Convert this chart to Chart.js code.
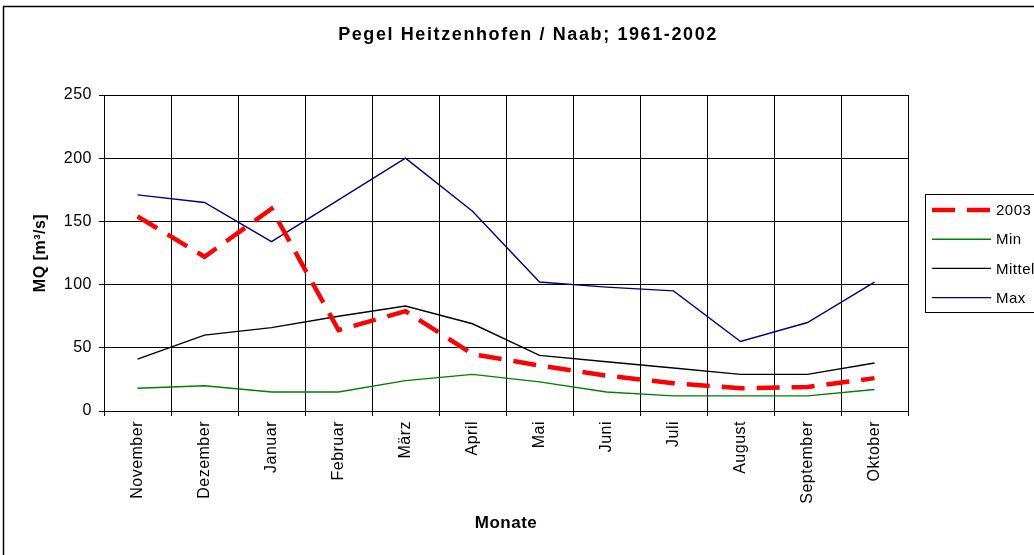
<!DOCTYPE html>
<html lang="de">
<head>
<meta charset="utf-8">
<title>Pegel Heitzenhofen / Naab</title>
<script src="https://cdn.jsdelivr.net/npm/chart.js@4.4.1/dist/chart.umd.min.js"></script>
<style>
  html, body { margin: 0; padding: 0; background: #fff; }
  canvas { display: block; }
</style>
</head>
<body>
<canvas id="pegel" width="1034" height="555"></canvas>
<script>
const FONT = '"Liberation Sans", Arial, sans-serif';

// Abflusswerte MQ [m³/s], Abflussjahr November bis Oktober
const months = ['November', 'Dezember', 'Januar', 'Februar', 'März', 'April',
                'Mai', 'Juni', 'Juli', 'August', 'September', 'Oktober'];
const q2003   = [154, 122, 160, 64, 79, 45, 36, 28, 22, 18, 19, 26];
const qMin    = [18, 20, 15, 15, 24, 29, 23, 15, 12, 12, 12, 17];
const qMittel = [41, 60, 66, 75, 83, 69, 44, 39, 34, 29, 29, 38];
const qMax    = [171, 165, 134, 167, 200, 158, 102, 98, 95, 55, 70, 102];
const yTicks  = [0, 50, 100, 150, 200, 250];

// Rahmen, Titel und Legende im Excel-Stil
const excelFrame = {
  id: 'excelFrame',
  beforeDraw(chart) {
    const ctx = chart.ctx;
    ctx.save();
    ctx.fillStyle = '#fff';
    ctx.fillRect(0, 0, chart.width, chart.height);
    ctx.restore();
    ctx.letterSpacing = '0.5px';
  },
  afterDraw(chart) {
    const ctx = chart.ctx;
    ctx.save();

    // äußerer Rahmen
    ctx.strokeStyle = '#000';
    ctx.lineWidth = 1.5;
    ctx.beginPath();
    ctx.moveTo(3.5, chart.height);
    ctx.lineTo(3.5, 6.5);
    ctx.lineTo(chart.width, 6.5);
    ctx.stroke();

    // Titel
    ctx.letterSpacing = '1.6px';
    ctx.fillStyle = '#000';
    ctx.font = 'bold 18px ' + FONT;
    ctx.textAlign = 'center';
    ctx.textBaseline = 'middle';
    ctx.fillText('Pegel Heitzenhofen / Naab; 1961-2002', 528, 35);

    // Legende
    ctx.letterSpacing = '0.5px';
    ctx.lineWidth = 1;
    ctx.strokeStyle = '#000';
    ctx.strokeRect(925.5, 194.5, 200, 118);
    ctx.font = '15px ' + FONT;
    ctx.textAlign = 'left';
    chart.data.datasets.forEach((ds, i) => {
      const y = 210 + i * 29.2;
      ctx.save();
      ctx.strokeStyle = ds.borderColor;
      ctx.lineWidth = ds.borderWidth;
      ctx.setLineDash(ds.borderDash || []);
      ctx.beginPath();
      ctx.moveTo(932, y);
      ctx.lineTo(991, y);
      ctx.stroke();
      ctx.restore();
      ctx.fillText(ds.label, 996, y + 1);
    });
    ctx.restore();
  }
};

new Chart(document.getElementById('pegel'), {
  type: 'line',
  data: {
    labels: months,
    datasets: [
      { label: '2003', data: q2003, borderColor: '#ff0000', borderWidth: 4.5, borderDash: [23, 12] },
      { label: 'Min', data: qMin, borderColor: '#008000', borderWidth: 1.4 },
      { label: 'Mittel', data: qMittel, borderColor: '#000000', borderWidth: 1.4 },
      { label: 'Max', data: qMax, borderColor: '#000080', borderWidth: 1.4 }
    ]
  },
  options: {
    responsive: false,
    animation: false,
    devicePixelRatio: 1,
    layout: { padding: { left: 0, top: 95, right: 126, bottom: 0 } },
    elements: {
      point: { radius: 0, hoverRadius: 0 },
      line: { tension: 0, borderCapStyle: 'butt', fill: false }
    },
    plugins: {
      legend: { display: false },
      title: { display: false },
      tooltip: { enabled: false }
    },
    scales: {
      x: {
        offset: true,
        grid: { offset: true, color: '#000', lineWidth: 1, tickLength: 5 },
        border: { color: '#000', width: 1 },
        ticks: {
          minRotation: 90, maxRotation: 90, autoSkip: false, padding: 5,
          color: '#000', font: { family: FONT, size: 16 }
        },
        title: {
          display: true, text: 'Monate', color: '#000',
          font: { family: FONT, size: 17, weight: 'bold' },
          padding: { top: 0, bottom: 21 }
        },
        afterFit(scale) { scale.height = 144; }
      },
      y: {
        min: 0, max: 250,
        afterBuildTicks(scale) { scale.ticks = yTicks.map(v => ({ value: v })); },
        grid: { color: '#000', lineWidth: 1, tickLength: 5 },
        border: { color: '#000', width: 1 },
        ticks: {
          padding: 7, color: '#000', font: { family: FONT, size: 16 }
        },
        title: {
          display: true, text: 'MQ [m³/s]', color: '#000',
          font: { family: FONT, size: 16, weight: 'bold' },
          padding: { top: 31, bottom: 0 }
        },
        afterFit(scale) { scale.width = 104; }
      }
    }
  },
  plugins: [excelFrame]
});
</script>
</body>
</html>
